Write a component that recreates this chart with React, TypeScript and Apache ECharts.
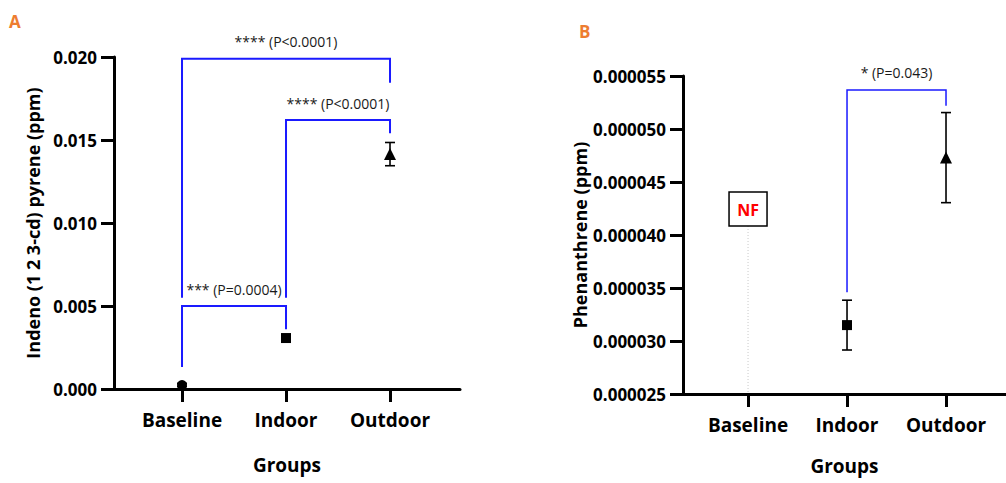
import React, { useEffect, useRef } from "react";
import * as echarts from "echarts";

const groups = ["Baseline", "Indoor", "Outdoor"];
const groupPos = [0, 1, 2];
const symbols = ["circle", "rect", "triangle"];
const symbolSizes = [10, 10, 12];

// Panel A: Indeno (1 2 3-cd) pyrene
const indenoMean = [0.00024, 0.00307, 0.01415];
const indenoErr = [0.0001, 0.0002, 0.0007];
const indenoTicks = [0, 0.005, 0.01, 0.015, 0.02];
// [from, to, top, leftBottom, rightBottom]
const indenoBrackets = [
  [0, 2, 0.0199, 0.0055, 0.01845],
  [1, 2, 0.0162, 0.0055, 0.0154],
  [0, 1, 0.005, 0.00133, 0.0036],
];
const indenoBracketLabels = ["**** (P<0.0001)", "**** (P<0.0001)", "*** (P=0.0004)"];

// Panel B: Phenanthrene
const phenMean = [null, 0.0000315, 0.0000473];
const phenErr = [null, 0.00000235, 0.00000425];
const phenTicks = [0.000025, 0.00003, 0.000035, 0.00004, 0.000045, 0.00005, 0.000055];
const phenBrackets = [[1, 2, 0.00005368, 0.0000346, 0.0000522]];
const phenBracketLabels = ["* (P=0.043)"];
const notFound = [[0, 0.00004245, "NF"]];

const FONT = "'Open Sans', 'Noto Sans', sans-serif";

function errorSeries(idx: number, means: (number | null)[], errs: (number | null)[]) {
  const data = means
    .map((m, i) => (m == null ? null : [groupPos[i], m - (errs[i] as number), m + (errs[i] as number)]))
    .filter((d) => d != null);
  return {
    type: "custom",
    xAxisIndex: idx,
    yAxisIndex: idx,
    z: 2,
    data,
    renderItem: (params: any, api: any) => {
      const x = api.value(0);
      const lo = api.coord([x, api.value(1)]);
      const hi = api.coord([x, api.value(2)]);
      const cw = 5;
      const style = { stroke: "#000", lineWidth: 1.6 };
      return {
        type: "group",
        children: [
          { type: "line", shape: { x1: lo[0], y1: lo[1], x2: hi[0], y2: hi[1] }, style },
          { type: "line", shape: { x1: hi[0] - cw, y1: hi[1], x2: hi[0] + cw, y2: hi[1] }, style },
          { type: "line", shape: { x1: lo[0] - cw, y1: lo[1], x2: lo[0] + cw, y2: lo[1] }, style },
        ],
      };
    },
  };
}

function pointSeries(idx: number, means: (number | null)[]) {
  const data = means
    .map((m, i) =>
      m == null ? null : { value: [groupPos[i], m], symbol: symbols[i], symbolSize: symbolSizes[i] }
    )
    .filter((d) => d != null);
  return {
    type: "scatter",
    xAxisIndex: idx,
    yAxisIndex: idx,
    z: 3,
    itemStyle: { color: "#000", opacity: 1 },
    data,
  };
}

function bracketSeries(idx: number, brackets: number[][], labels: string[], lw: number) {
  return {
    type: "custom",
    xAxisIndex: idx,
    yAxisIndex: idx,
    z: 4,
    data: brackets,
    renderItem: (params: any, api: any) => {
      const a = api.value(0);
      const b = api.value(1);
      const top = api.value(2);
      const tl = api.coord([a, top]);
      const tr = api.coord([b, top]);
      const bl = api.coord([a, api.value(3)]);
      const br = api.coord([b, api.value(4)]);
      return {
        type: "group",
        children: [
          {
            type: "polyline",
            shape: { points: [bl, tl, tr, br] },
            style: { stroke: "#1a1aff", lineWidth: lw, fill: "none" },
          },
          {
            type: "text",
            style: {
              text: labels[params.dataIndex],
              x: (tl[0] + tr[0]) / 2,
              y: tl[1] - 17,
              align: "center",
              verticalAlign: "middle",
              fill: "#1a1a1a",
              font: `14px ${FONT}`,
            },
          },
        ],
      };
    },
  };
}

function nfSeries(idx: number) {
  return {
    type: "custom",
    xAxisIndex: idx,
    yAxisIndex: idx,
    z: 4,
    data: notFound,
    renderItem: (params: any, api: any) => {
      const c = api.coord([api.value(0), api.value(1)]);
      const base = api.coord([api.value(0), phenTicks[0]]);
      const w = 38;
      const h = 34;
      return {
        type: "group",
        children: [
          {
            type: "line",
            shape: { x1: c[0], y1: c[1] + h / 2, x2: base[0], y2: base[1] - 2 },
            style: { stroke: "#c8c8c8", lineWidth: 1, lineDash: [1, 2] },
          },
          {
            type: "rect",
            shape: { x: c[0] - w / 2, y: c[1] - h / 2, width: w, height: h },
            style: { fill: "#fff", stroke: "#000", lineWidth: 1.5 },
          },
          {
            type: "text",
            style: {
              text: "NF",
              x: c[0],
              y: c[1] + 1,
              align: "center",
              verticalAlign: "middle",
              fill: "#ff0000",
              font: `bold 16px ${FONT}`,
            },
          },
        ],
      };
    },
  };
}

function xAxisCfg(idx: number, min: number, max: number, nameGap: number) {
  return {
    type: "value",
    gridIndex: idx,
    min,
    max,
    name: "Groups",
    nameLocation: "middle",
    nameGap,
    nameTextStyle: { fontFamily: FONT, fontWeight: "bold", fontSize: 19, color: "#000" },
    axisLine: { show: true, onZero: false, lineStyle: { color: "#000", width: 3 } },
    axisTick: {
      show: true,
      customValues: groupPos,
      length: 13,
      lineStyle: { color: "#000", width: 3 },
    },
    axisLabel: {
      show: true,
      customValues: groupPos,
      margin: 21,
      formatter: (v: number) => groups[Math.round(v)] ?? "",
      fontFamily: FONT,
      fontWeight: "bold",
      fontSize: 19,
      color: "#000",
    },
    splitLine: { show: false },
  };
}

function yAxisCfg(idx: number, ticks: number[], digits: number, name: string, nameGap: number) {
  return {
    type: "value",
    gridIndex: idx,
    min: ticks[0],
    max: ticks[ticks.length - 1],
    interval: ticks[1] - ticks[0],
    name,
    nameLocation: "middle",
    nameGap,
    nameTextStyle: { fontFamily: FONT, fontWeight: "bold", fontSize: 18, color: "#000" },
    axisLine: { show: true, onZero: false, lineStyle: { color: "#000", width: 3 } },
    axisTick: { show: true, length: 13, lineStyle: { color: "#000", width: 3 } },
    axisLabel: {
      margin: 17,
      formatter: (v: number) => v.toFixed(digits),
      fontFamily: FONT,
      fontWeight: "bold",
      fontSize: 17,
      color: "#000",
    },
    splitLine: { show: false },
  };
}

export default function App() {
  const ref = useRef<HTMLDivElement>(null);
  useEffect(() => {
    if (!ref.current) return;
    const chart = echarts.init(ref.current, null, { renderer: "svg" });
    chart.setOption({
      animation: false,
      backgroundColor: "#fff",
      grid: [
        { left: 114, top: 57, width: 346, height: 332 },
        { left: 683, top: 76, width: 323, height: 318 },
      ],
      xAxis: [xAxisCfg(0, -0.654, 2.673, 66), xAxisCfg(1, -0.657, 2.606, 62)],
      yAxis: [
        yAxisCfg(0, indenoTicks, 3, "Indeno (1 2 3-cd) pyrene (ppm)", 72),
        yAxisCfg(1, phenTicks, 6, "Phenanthrene (ppm)", 92),
      ],
      graphic: [
        {
          type: "text",
          left: 9,
          top: 13,
          style: { text: "A", fill: "#ed7d31", font: `bold 17px ${FONT}` },
        },
        {
          type: "text",
          left: 579,
          top: 23,
          style: { text: "B", fill: "#ed7d31", font: `bold 17px ${FONT}` },
        },
      ],
      series: [
        bracketSeries(0, indenoBrackets, indenoBracketLabels, 2),
        errorSeries(0, indenoMean, indenoErr),
        pointSeries(0, indenoMean),
        nfSeries(1),
        bracketSeries(1, phenBrackets, phenBracketLabels, 1.5),
        errorSeries(1, phenMean, phenErr),
        pointSeries(1, phenMean),
      ],
    });
    return () => chart.dispose();
  }, []);
  return (
    <div
      ref={ref}
      style={{ position: "absolute", left: 0, top: 0, width: 1006, height: 483 }}
    />
  );
}
